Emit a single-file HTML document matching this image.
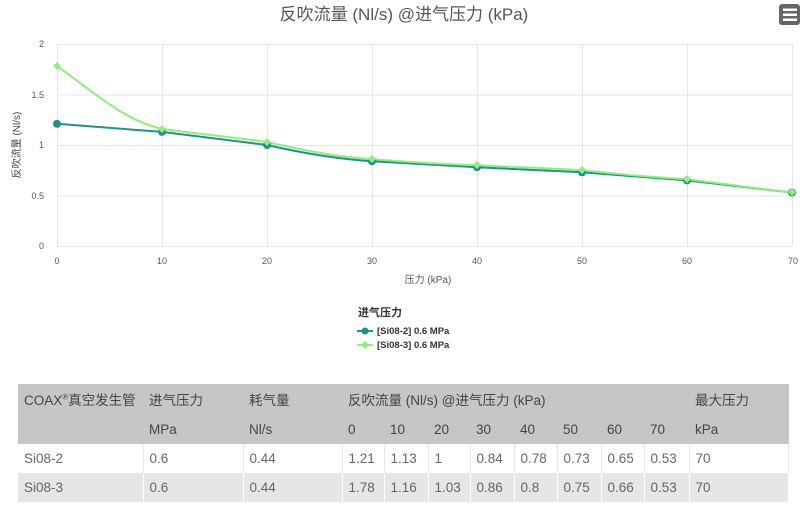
<!DOCTYPE html>
<html><head><meta charset="utf-8"><style>
body{margin:0;width:800px;height:506px;background:#fff;font-family:"Liberation Sans","Noto Sans CJK SC",sans-serif;overflow:hidden;position:relative}
table{position:absolute;left:18px;top:384px;width:771px;border-collapse:collapse;font-size:13.5px;color:#555}
td{padding:0 0 0 6px;height:30px;text-align:left;white-space:nowrap}
tr.h td{background:#c6c6c6;color:#444;height:30px}
tr.r1 td{background:#fff;border-right:1px solid #e6e6e6;height:29px;color:#666}
tr.r2 td{background:#e6e6e6;border-right:1px solid #fff;height:29px;color:#666}
</style></head><body>
<svg width="800" height="380" style="position:absolute;left:0;top:0" font-family="Liberation Sans, Noto Sans CJK SC, sans-serif">
<text x="404" y="20" text-anchor="middle" font-size="17" fill="#555">反吹流量 (Nl/s) @进气压力 (kPa)</text>
<g><rect x="779" y="4" width="21" height="21" rx="3" fill="#666"/><rect x="783" y="8.5" width="14" height="2.5" fill="#fff"/><rect x="783" y="13.5" width="14" height="2.5" fill="#fff"/><rect x="783" y="18.5" width="14" height="2.5" fill="#fff"/></g>
<g stroke="#e6e6e6" stroke-width="1">
<line x1="57" y1="44.5" x2="792" y2="44.5"/><line x1="57" y1="95" x2="792" y2="95"/><line x1="57" y1="145.5" x2="792" y2="145.5"/><line x1="57" y1="196" x2="792" y2="196"/><line x1="57" y1="246.5" x2="792" y2="246.5"/>
<line x1="57.5" y1="44" x2="57.5" y2="246"/><line x1="162.5" y1="44" x2="162.5" y2="246"/><line x1="267.5" y1="44" x2="267.5" y2="246"/><line x1="372.5" y1="44" x2="372.5" y2="246"/><line x1="477.5" y1="44" x2="477.5" y2="246"/><line x1="582.5" y1="44" x2="582.5" y2="246"/><line x1="687.5" y1="44" x2="687.5" y2="246"/><line x1="792.5" y1="44" x2="792.5" y2="246"/>
</g>
<g font-size="9" fill="#555" text-anchor="end">
<text x="44" y="47">2</text><text x="44" y="98">1.5</text><text x="44" y="148">1</text><text x="44" y="199">0.5</text><text x="44" y="249">0</text>
</g>
<g font-size="9" fill="#555" text-anchor="middle">
<text x="57" y="264">0</text><text x="162" y="264">10</text><text x="267" y="264">20</text><text x="372" y="264">30</text><text x="477" y="264">40</text><text x="582" y="264">50</text><text x="687" y="264">60</text><text x="793" y="264">70</text>
</g>
<text x="428" y="283" font-size="10" fill="#555" text-anchor="middle">压力 (kPa)</text>
<text transform="translate(20,145) rotate(-90)" font-size="10" fill="#444" text-anchor="middle">反吹流量 (Nl/s)</text>
<path d="M57 123.8 L162 131.9 L267 145 C302 153,337 159,372 161.2 L477 167.2 L582 172.3 L687 180.4 L792 192.5" fill="none" stroke="#23908a" stroke-width="2"/>
<path d="M57 66.2 C92 90,122 120,162 128.8 C197 134,232 137,267 142 C302 150,337 157,372 159.1 C407 162,442 164,477 165.2 C512 167,547 168,582 170.3 C617 174,652 177,687 179.3 C722 184,757 188,792 192.5" fill="none" stroke="#90ee7e" stroke-width="2"/>
<g fill="#23908a"><circle cx="57" cy="123.8" r="4"/><circle cx="162" cy="131.9" r="4"/><circle cx="267" cy="145" r="4"/><circle cx="372" cy="161.2" r="4"/><circle cx="477" cy="167.2" r="4"/><circle cx="582" cy="172.3" r="4"/><circle cx="687" cy="180.4" r="4"/><circle cx="792" cy="192.5" r="4"/></g>
<g fill="#90ee7e"><path d="M57 62l4 4-4 4-4-4z"/><path d="M162 125l4 4-4 4-4-4z"/><path d="M267 138l4 4-4 4-4-4z"/><path d="M372 155l4 4-4 4-4-4z"/><path d="M477 161l4 4-4 4-4-4z"/><path d="M582 166l4 4-4 4-4-4z"/><path d="M687 175l4 4-4 4-4-4z"/><path d="M792 188l4 4-4 4-4-4z"/></g>
<text x="358" y="316" font-size="11" font-weight="bold" fill="#333">进气压力</text>
<line x1="357" y1="331" x2="373" y2="331" stroke="#23908a" stroke-width="2"/><circle cx="365" cy="331" r="3.5" fill="#23908a"/>
<text x="377" y="334" font-size="9.5" font-weight="bold" fill="#333">[Si08-2] 0.6 MPa</text>
<line x1="357" y1="345" x2="373" y2="345" stroke="#90ee7e" stroke-width="2"/><path d="M365 341l4 4-4 4-4-4z" fill="#90ee7e"/>
<text x="377" y="348" font-size="9.5" font-weight="bold" fill="#333">[Si08-3] 0.6 MPa</text>
</svg>
<table>
<colgroup><col style="width:125px"><col style="width:100px"><col style="width:99px"><col style="width:42px"><col style="width:44px"><col style="width:42px"><col style="width:44px"><col style="width:43px"><col style="width:44px"><col style="width:43px"><col style="width:45px"><col></colgroup>
<tr class="h"><td>COAX<sup style="font-size:8px">®</sup>真空发生管</td><td>进气压力</td><td>耗气量</td><td colspan="8">反吹流量 (Nl/s) @进气压力 (kPa)</td><td>最大压力</td></tr>
<tr class="h"><td></td><td>MPa</td><td>Nl/s</td><td>0</td><td>10</td><td>20</td><td>30</td><td>40</td><td>50</td><td>60</td><td>70</td><td>kPa</td></tr>
<tr class="r1"><td>Si08-2</td><td>0.6</td><td>0.44</td><td>1.21</td><td>1.13</td><td>1</td><td>0.84</td><td>0.78</td><td>0.73</td><td>0.65</td><td>0.53</td><td>70</td></tr>
<tr class="r2"><td>Si08-3</td><td>0.6</td><td>0.44</td><td>1.78</td><td>1.16</td><td>1.03</td><td>0.86</td><td>0.8</td><td>0.75</td><td>0.66</td><td>0.53</td><td>70</td></tr>
</table>
</body></html>
